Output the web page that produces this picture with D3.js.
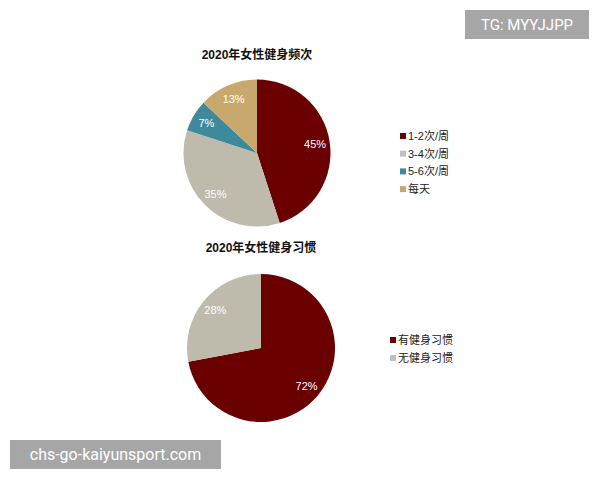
<!DOCTYPE html>
<html><head><meta charset="utf-8">
<script src="https://cdn.jsdelivr.net/npm/d3@7"></script>
<style>body{margin:0;background:#fff}svg{display:block}</style>
</head><body>
<svg id="c" width="600" height="480"></svg>
<script>
const freqCategories = ["1-2次/周", "3-4次/周", "5-6次/周", "每天"];
const freqValues = [45, 35, 7, 13];
const freqColors = ["#6A0000", "#BEBBAD", "#3E8A9B", "#C8A86C"];
const freqLegendColors = ["#6A0000", "#C0C0C0", "#3E8A9B", "#C8A86C"];
const habitCategories = ["有健身习惯", "无健身习惯"];
const habitValues = [72, 28];
const habitColors = ["#6A0000", "#BEBBAD"];
const habitLegendColors = ["#6A0000", "#C0C0C0"];
const titles = ["2020年女性健身频次", "2020年女性健身习惯"];

const svg = d3.select("#c");
const font = "Arial, 'Liberation Sans', 'Noto Sans CJK SC', sans-serif";

function drawPie(cx, cy, r, title, titleY, values, colors, cats, legColors, legX, legY0, legStep) {
  svg.append("text").attr("x", cx).attr("y", titleY).attr("text-anchor", "middle")
    .attr("font-family", font).attr("font-size", 12).attr("font-weight", "bold")
    .attr("fill", "#111").text(title);
  const pie = d3.pie().sort(null).value(d => d);
  const arcs = pie(values);
  const arc = d3.arc().innerRadius(0).outerRadius(r);
  const labelArc = d3.arc().innerRadius(r * 0.8).outerRadius(r * 0.8);
  const g = svg.append("g").attr("transform", `translate(${cx},${cy})`);
  g.selectAll("path").data(arcs).join("path").attr("d", arc)
    .attr("fill", (d, i) => colors[i]);
  g.selectAll("text").data(arcs).join("text")
    .attr("transform", d => `translate(${labelArc.centroid(d)})`)
    .attr("text-anchor", "middle").attr("dy", "0.35em")
    .attr("font-family", font).attr("font-size", 11).attr("fill", "#fff")
    .text(d => d.data + "%");
  const lg = svg.append("g");
  cats.forEach((c, i) => {
    const y = legY0 + i * legStep;
    lg.append("rect").attr("x", legX).attr("y", y - 3).attr("width", 6).attr("height", 6)
      .attr("fill", legColors[i]);
    lg.append("text").attr("x", legX + 8).attr("y", y).attr("dy", "0.35em")
      .attr("font-family", font).attr("font-size", 11).attr("fill", "#222").text(c);
  });
}

drawPie(257, 153, 73.5, titles[0], 59, freqValues, freqColors, freqCategories, freqLegendColors, 400, 136, 17.7);
drawPie(261, 348, 74, titles[1], 252, habitValues, habitColors, habitCategories, habitLegendColors, 390, 340, 18);

// watermark overlays
function badge(x, y, w, h, txt, fs) {
  svg.append("rect").attr("x", x).attr("y", y).attr("width", w).attr("height", h).attr("fill", "#A6A6A6");
  svg.append("text").attr("x", x + w / 2).attr("y", y + h / 2).attr("dy", "0.35em")
    .attr("text-anchor", "middle").attr("font-family", "Roboto, 'Noto Sans', sans-serif")
    .attr("font-size", fs).attr("fill", "#fff").text(txt);
}
badge(465, 10, 124, 29, "TG: MYYJJPP", 15);
badge(10, 440, 211, 29, "chs-go-kaiyunsport.com", 16);
</script>
</body></html>
